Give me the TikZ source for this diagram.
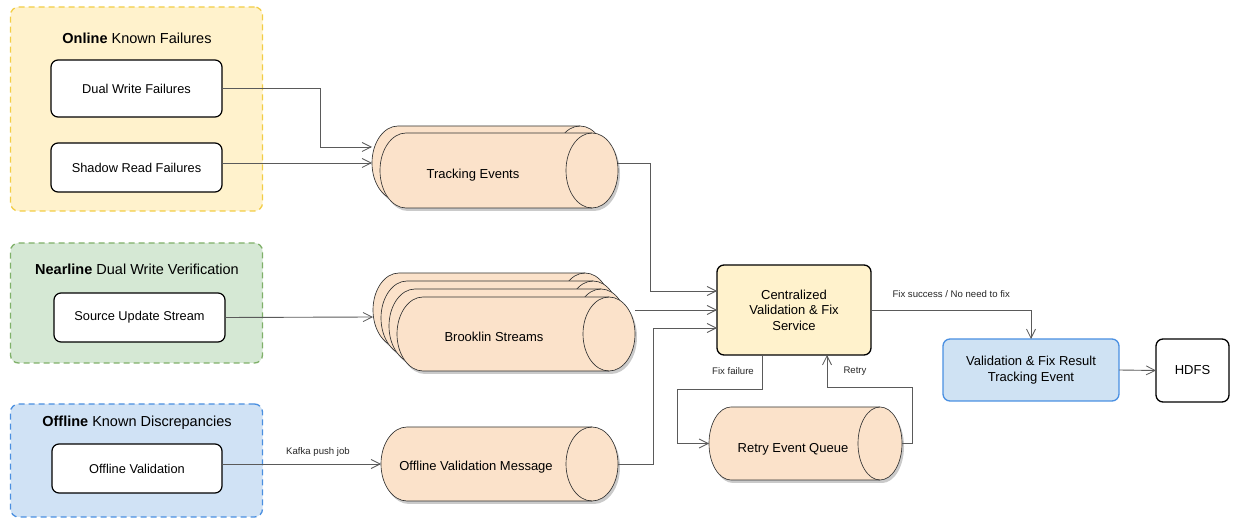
\documentclass[tikz,border=0pt]{standalone}
\usepackage{fontspec}
\setmainfont{Liberation Sans}
\usetikzlibrary{arrows.meta}
\definecolor{ylwfill}{HTML}{FFF2CC}
\definecolor{ylwdash}{HTML}{F2CD45}
\definecolor{grnfill}{HTML}{D5E8D4}
\definecolor{grndash}{HTML}{7FB069}
\definecolor{blufill}{HTML}{D0E2F5}
\definecolor{bludash}{HTML}{4A8FE0}
\definecolor{cylfill}{HTML}{FBE2CA}
\definecolor{conncol}{HTML}{5A5A5A}
\definecolor{resfill}{HTML}{CFE2F3}
\definecolor{resdraw}{HTML}{4A90E2}
\newcommand\hcylout[5]{%
 (\hcyA,#2) -- (\hcyB,#2) .. controls ({\hcyB+\hcyKx},#2) and ({\hcyB+#5},{\hcyM-\hcyKy}) .. ({\hcyB+#5},\hcyM)
 .. controls ({\hcyB+#5},{\hcyM+\hcyKy}) and ({\hcyB+\hcyKx},#4) .. (\hcyB,#4) -- (\hcyA,#4)
 .. controls ({\hcyA-\hcyKx},#4) and ({\hcyA-#5},{\hcyM+\hcyKy}) .. ({\hcyA-#5},\hcyM)
 .. controls ({\hcyA-#5},{\hcyM-\hcyKy}) and ({\hcyA-\hcyKx},#2) .. (\hcyA,#2) -- cycle}
\newcommand\hcyl[5]{%
 \pgfmathsetmacro\hcyA{#1+#5}%
 \pgfmathsetmacro\hcyB{#3-#5}%
 \pgfmathsetmacro\hcyM{(#2+#4)/2}%
 \pgfmathsetmacro\hcyKx{0.5523*#5}%
 \pgfmathsetmacro\hcyKy{0.5523*(#4-#2)/2}%
 \fill[black!35,opacity=.6,shift={(2,3)}] \hcylout{#1}{#2}{#3}{#4}{#5};
 \draw[cylstyle] \hcylout{#1}{#2}{#3}{#4}{#5};
 \draw[cylline] (\hcyB,#2) .. controls ({\hcyB-\hcyKx},#2) and ({\hcyB-#5},{\hcyM-\hcyKy}) .. ({\hcyB-#5},\hcyM)
 .. controls ({\hcyB-#5},{\hcyM+\hcyKy}) and ({\hcyB-\hcyKx},#4) .. (\hcyB,#4);
}
\begin{document}
\begin{tikzpicture}[x=1pt,y=-1pt,
  cylstyle/.style={fill=cylfill,draw=black!80,line width=0.65pt},
  cylline/.style={draw=black!80,line width=0.65pt},
  group/.style={rounded corners=8pt,dashed,dash pattern=on 6pt off 4pt,line width=1.3pt,inner sep=0pt,outer sep=0pt},
  ibox/.style={draw=black,fill=white,rounded corners=7pt,line width=1.2pt,font=\fontsize{12.8}{15}\selectfont,inner sep=0pt,outer sep=0pt},
  gtitle/.style={font=\fontsize{14.5}{17}\selectfont},
  anchornode/.style={inner sep=0pt,outer sep=0pt,draw=none},
  cyltext/.style={font=\fontsize{13}{15}\selectfont},
  conn/.style={draw=conncol,line width=0.9pt,-{Straight Barb[length=9pt,width=9pt,line width=0.8pt]}},
  elabel/.style={font=\fontsize{9.6}{11}\selectfont,text=black!85},
  ]
\useasboundingbox (0,0) rectangle (1235,518);
% groups
\node[group,fill=ylwfill,draw=ylwdash,minimum width=252pt,minimum height=204pt] (gon) at (136.5,109) {};
\node[group,fill=grnfill,draw=grndash,minimum width=252pt,minimum height=120pt] (gnl) at (136.5,303) {};
\node[group,fill=blufill,draw=bludash,minimum width=252pt,minimum height=113pt] (goff) at (136.5,460.5) {};
\node[gtitle] (ton) at (137,38) {\textbf{Online} Known Failures};
\node[gtitle] (tnl) at (137,269) {\textbf{Nearline} Dual Write Verification};
\node[gtitle] (toff) at (137,423) {\textbf{Offline} Known Discrepancies};
% inner boxes
\node[ibox,minimum width=171pt,minimum height=57pt] (dw) at (136.5,88.5) {Dual Write Failures};
\node[ibox,minimum width=171pt,minimum height=49pt] (sr) at (136.5,167.5) {Shadow Read Failures};
\node[ibox,minimum width=171pt,minimum height=49pt] (sus) at (139.5,317.5) {Source Update Stream};
\node[ibox,minimum width=170pt,minimum height=49pt] (ov) at (137,468.5) {Offline Validation};
% cylinders
\hcyl{372}{126}{606}{200}{26}
\hcyl{380}{133}{618}{208}{26}
\node[anchornode,minimum width=246pt,minimum height=82pt] (te) at (495,167) {};
\node[cyltext] (tel) at (473,175) {Tracking Events};
\hcyl{373}{273}{611}{347}{26}
\hcyl{381}{281}{619}{355}{26}
\hcyl{389}{289}{627}{363}{26}
\hcyl{397}{297}{635}{371}{26}
\node[anchornode,minimum width=262pt,minimum height=98pt] (bs) at (504,322) {};
\node[cyltext] (bsl) at (494,337) {Brooklin Streams};
\hcyl{381}{427}{618}{501}{26}
\node[anchornode,minimum width=237pt,minimum height=74pt] (ovm) at (499.5,464) {};
\node[cyltext] (ovml) at (476,467) {Offline Validation Message};
\hcyl{709}{407}{902}{480}{22}
\node[anchornode,minimum width=193pt,minimum height=73pt] (req) at (805.5,443.5) {};
\node[cyltext] (reql) at (793,449) {Retry Event Queue};
% central and result
\node[draw=black,fill=ylwfill,rounded corners=7pt,line width=1.3pt,minimum width=154pt,minimum height=90pt,inner sep=0pt,outer sep=0pt,align=center,font=\fontsize{13}{15.5}\selectfont] (cv) at (794,310) {Centralized\\Validation \& Fix\\Service};
\node[draw=resdraw,fill=resfill,rounded corners=7pt,line width=1.3pt,minimum width=176pt,minimum height=62pt,inner sep=0pt,outer sep=0pt,align=center,font=\fontsize{13}{15.5}\selectfont] (res) at (1031,370) {Validation \& Fix Result\\Tracking Event};
\node[draw=black,fill=white,rounded corners=7pt,line width=1.3pt,minimum width=73pt,minimum height=63pt,inner sep=0pt,outer sep=0pt,font=\fontsize{13}{15.5}\selectfont] (hdfs) at (1192.5,370.5) {HDFS};
% connectors
\draw[conn] (dw.east) -- ++(98,0) |- ([yshift=20pt]te.west);
\draw[conn] ([yshift=4.5pt]sr.east) -- ([yshift=4pt]te.west);
\draw[conn] (sus.east) -- ([yshift=0.5pt]bs.west |- sus.east);
\draw[conn] ([yshift=4.5pt]ov.east) -- (ovm.west);
\node[elabel] (lkafka) at (318,452) {Kafka push job};
\draw[conn] ([yshift=4pt]te.east) -- ++(32,0) |- ([yshift=19pt]cv.west);
\draw[conn] (bs.east |- cv.west) -- (cv.west);
\draw[conn] (ovm.east) -- ++(35,0) |- ([yshift=-18pt]cv.west);
\draw[conn] ([xshift=-32pt]cv.south) -- ++(0,34) -- ++(-85,0) |- (req.west);
\draw[conn] (req.east) -- ++(10,0) -- ++(0,-56) -| ([xshift=33pt]cv.south);
\node[elabel] (lfail) at (733,371) {Fix failure};
\node[elabel] (lretry) at (855,371) {Retry};
\draw[conn] (cv.east) -| (res.north);
\node[elabel,anchor=west] (lsucc) at (889,294) {Fix success / No need to fix};
\draw[conn] (res.east) -- (hdfs.west);
\end{tikzpicture}
\end{document}
